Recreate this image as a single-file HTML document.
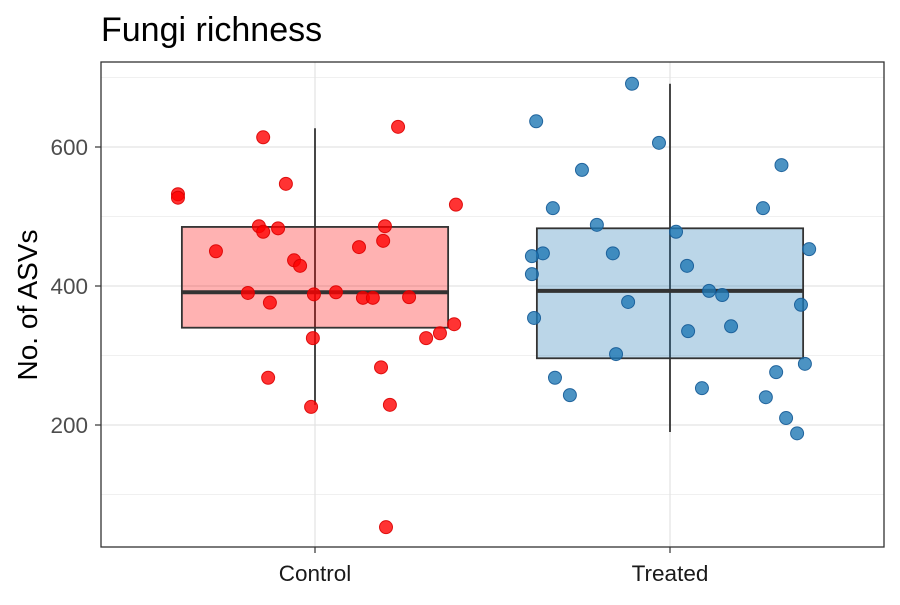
<!DOCTYPE html>
<html><head><meta charset="utf-8"><style>
body{margin:0;background:#fff;font-family:"Liberation Sans",sans-serif}
</style></head><body>
<svg id="chart" width="900" height="600" xmlns="http://www.w3.org/2000/svg"></svg>
<script>
const categories=["Control","Treated"];
const controlValues=[532,527,450,614,547,486,478,483,437,429,390,376,388,391,456,383,383,486,465,629,517,384,345,332,325,325,268,226,283,229,53];
const controlJitter=[-0.386,-0.386,-0.279,-0.146,-0.082,-0.158,-0.146,-0.104,-0.059,-0.042,-0.189,-0.127,-0.003,0.059,0.124,0.135,0.163,0.197,0.192,0.234,0.397,0.265,0.392,0.352,0.313,-0.006,-0.132,-0.011,0.186,0.211,0.200];
const treatedValues=[637,691,606,574,567,512,512,488,478,447,443,447,453,417,429,393,387,377,354,342,335,373,302,288,268,276,243,253,240,210,188];
const treatedJitter=[-0.377,-0.107,-0.031,0.314,-0.248,-0.330,0.262,-0.206,0.017,-0.358,-0.389,-0.161,0.392,-0.389,0.048,0.110,0.147,-0.118,-0.383,0.172,0.051,0.369,-0.152,0.380,-0.324,0.299,-0.282,0.090,0.270,0.327,0.358];
const boxStats=[{q1:340,med:391,q3:485,lo:229,hi:627},{q1:296,med:393,q3:483,lo:190,hi:691}];
const yTicks=[200,400,600];
const yMinor=[100,300,500,700];

const NS="http://www.w3.org/2000/svg";
const svg=document.getElementById('chart');
const L=101,R=884,T=62,B=547;
const y=v=>286-(v-400)*0.695;
const x=i=>315+i*355;
const bw=355;
function add(tag,attrs,parent){const e=document.createElementNS(NS,tag);for(const k in attrs)e.setAttribute(k,attrs[k]);(parent||svg).appendChild(e);return e;}

let e=add('rect',{x:L,y:T,width:R-L,height:B-T,fill:'#fff'});


yMinor.forEach(v=>{const g=add('line',{x1:L,x2:R,y1:y(v),y2:y(v),stroke:'#f0f0f0','stroke-width':1});

});
yTicks.forEach(v=>{const g=add('line',{x1:L,x2:R,y1:y(v),y2:y(v),stroke:'#e3e3e3','stroke-width':1.2});


const t=add('text',{x:88,y:y(v)+8,'text-anchor':'end','font-size':22.5,fill:'#4d4d4d'});t.textContent=v;


const tk=add('line',{x1:95,x2:L,y1:y(v),y2:y(v),stroke:'#333','stroke-width':1.2});

});
categories.forEach((c,i)=>{const g=add('line',{x1:x(i),x2:x(i),y1:T,y2:B,stroke:'#e3e3e3','stroke-width':1.2});


const tk=add('line',{x1:x(i),x2:x(i),y1:B,y2:B+6,stroke:'#333','stroke-width':1.2});


const t=add('text',{x:x(i),y:581,'text-anchor':'middle','font-size':22.5,fill:'#1a1a1a'});t.textContent=c;

});

const fills=['rgba(255,0,0,0.3)','rgba(31,120,180,0.3)'];
const pts=['rgba(255,0,0,0.8)','rgba(31,120,180,0.8)'];
const strokes=['rgba(220,0,0,0.9)','rgba(20,90,150,0.9)'];
boxStats.forEach((s,i)=>{
const w=add('line',{x1:x(i),x2:x(i),y1:y(s.hi),y2:y(s.lo),stroke:'#333','stroke-width':1.8});


const b=add('rect',{x:x(i)-bw*0.375,y:y(s.q3),width:bw*0.75,height:y(s.q1)-y(s.q3),fill:fills[i],stroke:'#333','stroke-width':1.8});


const m=add('line',{x1:x(i)-bw*0.375,x2:x(i)+bw*0.375,y1:y(s.med),y2:y(s.med),stroke:'#333','stroke-width':4});

});
[[controlValues,controlJitter],[treatedValues,treatedJitter]].forEach(([vals,jit],i)=>{
vals.forEach((v,k)=>{const c=add('circle',{cx:x(i)+jit[k]*bw,cy:y(v),r:6.5,fill:pts[i],stroke:strokes[i],'stroke-width':1});

});});
e=add('rect',{x:L,y:T,width:R-L,height:B-T,fill:'none',stroke:'#333','stroke-width':1.3});


e=add('text',{x:101,y:41,'font-size':34,fill:'#000'});e.textContent='Fungi richness';


e=add('text',{x:0,y:0,'font-size':28,fill:'#000','text-anchor':'middle',transform:'translate(37,305) rotate(-90)'});e.textContent='No. of ASVs';


</script>
</body></html>
